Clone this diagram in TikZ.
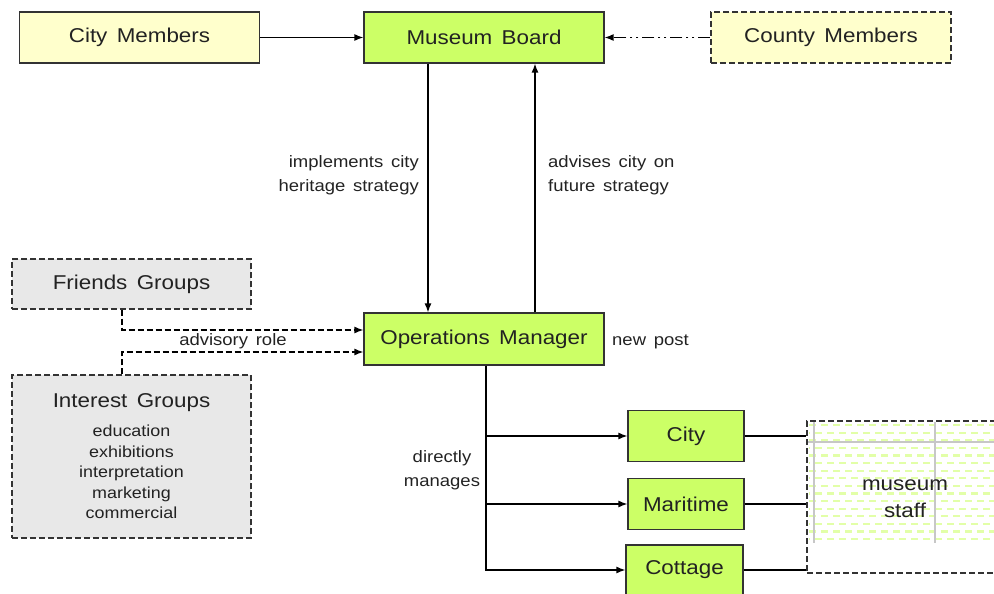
\documentclass[tikz,border=0pt]{standalone}
\usepackage{fontspec}
\setmainfont[FakeStretch=1.12, WordSpace=1.5]{Liberation Sans}
\usetikzlibrary{arrows.meta}

\definecolor{boardgreen}{HTML}{CCFF66}
\definecolor{memberyellow}{HTML}{FFFFCC}
\definecolor{groupgrey}{HTML}{E8E8E8}
\definecolor{staffdash}{HTML}{E2FFA8}
\definecolor{inktext}{HTML}{222222}

\newcommand{\boxfont}{\fontsize{20}{24}\selectfont}
\newcommand{\labfont}{\fontsize{16.5}{23.5}\selectfont}
\newcommand{\listfont}{\fontsize{16}{20.5}\selectfont}

\tikzset{
  unit/.style={draw=black!80, line width=1.2pt, minimum width=240, minimum height=51, inner sep=0pt, font=\boxfont, text=inktext},
  board/.style={unit, fill=boardgreen},
  members/.style={unit, fill=memberyellow},
  group/.style={unit, fill=groupgrey, dashed, dash pattern=on 6pt off 3pt},
  site/.style={board, minimum width=116},
  lab/.style={font=\labfont, text=inktext, inner sep=0pt, align=center},
  link/.style={line width=1.3pt, -{Latex[length=9pt,width=7pt]}},
}

\begin{document}
\begin{tikzpicture}[x=1pt,y=-1pt]
\useasboundingbox (0,0) rectangle (994,594);

% top row
\node[members] (citym) at (139.5,37.5) {City Members};
\node[board] (museum) at (484,37.5) {Museum Board};
\node[members, dashed, dash pattern=on 6pt off 3pt] (county) at (831,37.5) {County Members};

\draw[link] (citym.east) -- (museum.west);
\draw[link, dash pattern=on 12pt off 4pt on 2pt off 4pt on 2pt off 4pt] (county.west) -- (museum.east);

% operations
\node[board, minimum height=52] (ops) at (484,339) {Operations Manager};
\node[lab, anchor=west] (newpost) at (612,342) {new post};

\draw[link] ([xshift=-56pt]museum.south) -- ([xshift=-56pt]ops.north);
\draw[link] ([xshift=51pt]ops.north) -- ([xshift=51pt]museum.south);
\node[lab, anchor=east, align=right] (implements) at (419,175) {implements city\\heritage strategy};
\node[lab, anchor=west, align=left] (advises) at (548,175) {advises city on\\future strategy};

% advisory groups
\node[group, minimum width=239, minimum height=50] (friends) at (131.5,284) {Friends Groups};
\node[group, minimum width=239, minimum height=163, align=center] (interest) at (131.5,456.5)
  {Interest Groups\\[5pt]
   \listfont education\\[-3.5pt]\listfont exhibitions\\[-3.5pt]\listfont interpretation\\[-3.5pt]\listfont marketing\\[-3.5pt]\listfont commercial};

\draw[link, dashed, dash pattern=on 6pt off 3pt] ([xshift=-9.5pt]friends.south) |- ([yshift=9pt]ops.west);
\draw[link, dashed, dash pattern=on 6pt off 3pt] ([xshift=-9.5pt]interest.north) |- ([yshift=-13pt]ops.west);
\node[lab] (advisory) at (233,341) {advisory role};

% the three museums
\node[site] (city) at (686,436) {City};
\node[site] (maritime) at (686,504) {Maritime};
\node[site, minimum width=117, minimum height=50] (cottage) at (684.5,570) {Cottage};

\coordinate (trunk) at ([xshift=2pt]ops.south);
\draw[link] (trunk) |- (city.west);
\draw[link] (trunk) |- (maritime.west);
\draw[link] (trunk) |- (cottage.west);
\node[lab] (directly) at (442,470) {directly\\manages};

% shared staff pool
\fill[white] (807,421) rectangle (1010,573);
\foreach \row in {0,...,15}{
  \pgfmathsetmacro{\yy}{425+7.6*\row}
  \pgfmathsetmacro{\off}{mod(\row,2)*6}
  \draw[staffdash, line width=2.2pt, dash pattern=on 7pt off 5pt, dash phase=\off pt] (809,\yy) -- (1000,\yy);
}
\draw[black!22, line width=2pt] (814,422) -- (814,543);
\draw[black!22, line width=2pt] (935,422) -- (935,543);
\draw[black!22, line width=2pt] (808,442) -- (1000,442);
\node[draw=black!80, line width=1.2pt, dashed, dash pattern=on 6pt off 3pt, minimum width=203, minimum height=152, inner sep=0pt] (staff) at (908.5,497) {};
\node[font=\boxfont, text=inktext, align=center] (stafftext) at (905,499) {museum\\[3pt]staff};

\draw[line width=1.3pt] (city.east) -- (staff.west |- city.east);
\draw[line width=1.3pt] (maritime.east) -- (staff.west |- maritime.east);
\draw[line width=1.3pt] (cottage.east) -- (staff.west |- cottage.east);

\end{tikzpicture}
\end{document}
